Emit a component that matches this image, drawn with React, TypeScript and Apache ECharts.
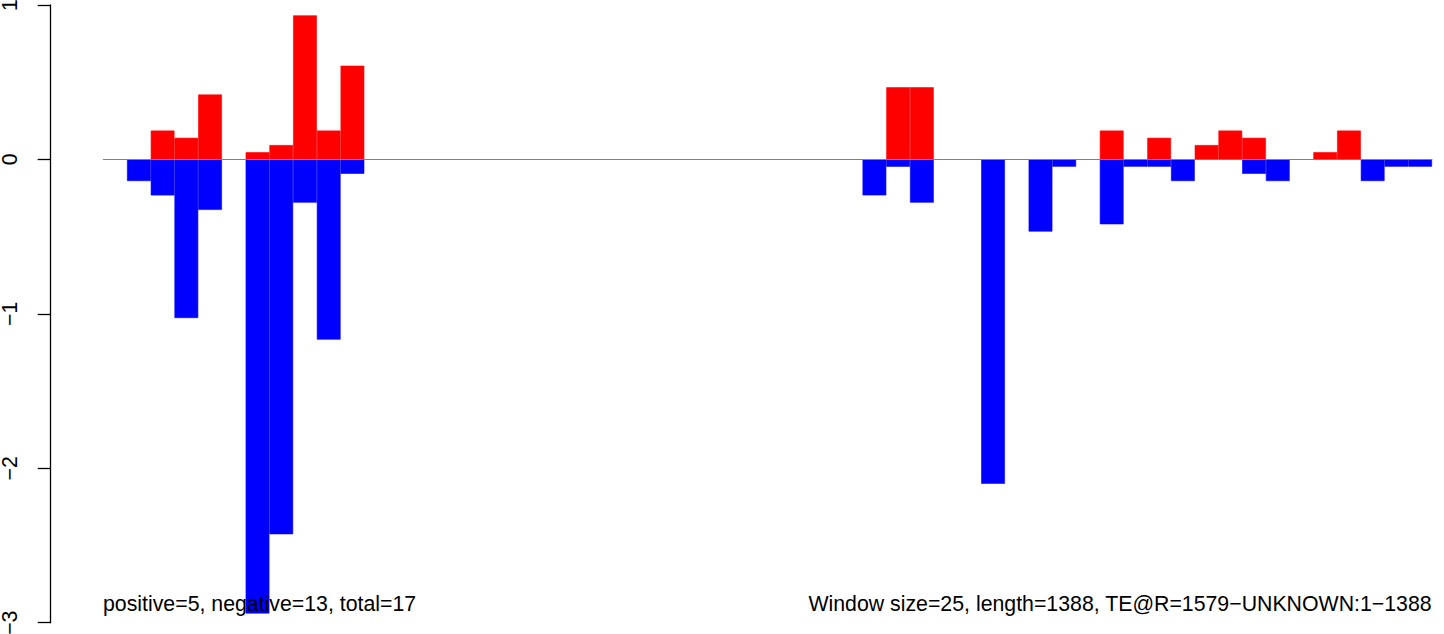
import React, { useEffect, useRef } from "react";
import * as echarts from "echarts";

const categories: string[] = [
  "1", "26", "51", "76", "101", "126", "151", "176", "201", "226",
  "251", "276", "301", "326", "351", "376", "401", "426", "451", "476",
  "501", "526", "551", "576", "601", "626", "651", "676", "701", "726",
  "751", "776", "801", "826", "851", "876", "901", "926", "951", "976",
  "1001", "1026", "1051", "1076", "1101", "1126", "1151", "1176", "1201", "1226",
  "1251", "1276", "1301", "1326", "1351", "1376",
];

const positiveValues: (number | null)[] = [
  null, null, 0.187, 0.14, 0.42, null, 0.047, 0.093, 0.933, 0.187,
  0.607, null, null, null, null, null, null, null, null, null,
  null, null, null, null, null, null, null, null, null, null,
  null, null, null, 0.467, 0.467, null, null, null, null, null,
  null, null, 0.187, null, 0.14, null, 0.093, 0.187, 0.14, null,
  null, 0.047, 0.187, null, null, null,
];

const negativeValues: (number | null)[] = [
  null, -0.14, -0.233, -1.027, -0.327, null, -2.94, -2.427, -0.28, -1.167,
  -0.093, null, null, null, null, null, null, null, null, null,
  null, null, null, null, null, null, null, null, null, null,
  null, null, -0.233, -0.047, -0.28, null, null, -2.1, null, -0.467,
  -0.047, null, -0.42, -0.047, -0.047, -0.14, null, null, -0.093, -0.14,
  null, null, null, -0.14, -0.047, -0.047,
];

const yTicks = { min: -3, max: 1, interval: 1 };
const leftNote = "positive=5, negative=13, total=17";
const rightNote = "Window size=25, length=1388, TE@R=1579\u2212UNKNOWN:1\u22121388";

const FONT = "'Liberation Sans', Arial, Helvetica, sans-serif";

export default function App() {
  const ref = useRef<HTMLDivElement>(null);
  useEffect(() => {
    if (!ref.current) return;
    const chart = echarts.init(ref.current, null, { renderer: "svg" });
    chart.setOption({
      animation: false,
      backgroundColor: "#ffffff",
      grid: {
        left: 103.3,
        right: 12,
        top: 5,
        bottom: 11.3,
        containLabel: false,
        outerBoundsMode: "none",
      },
      xAxis: {
        type: "category",
        data: categories,
        boundaryGap: true,
        z: 10,
        axisLine: { show: true, onZero: true, lineStyle: { color: "#808080", width: 1 } },
        axisTick: { show: false },
        axisLabel: { show: false },
        splitLine: { show: false },
      },
      yAxis: {
        type: "value",
        min: yTicks.min,
        max: yTicks.max,
        interval: yTicks.interval,
        offset: 52.6,
        axisLine: { show: true, lineStyle: { color: "#000", width: 1.3 } },
        axisTick: { show: true, length: 13, lineStyle: { color: "#000", width: 1.3 } },
        axisLabel: {
          show: true,
          rotate: 90,
          margin: 30,
          color: "#000",
          fontSize: 21.3,
          fontFamily: FONT,
          hideOverlap: false,
          formatter: (v: number) => String(v).replace("-", "\u2212"),
        },
        splitLine: { show: false },
      },
      series: [
        {
          type: "bar",
          name: "positive",
          data: positiveValues,
          barWidth: "100%",
          barGap: "-100%",
          itemStyle: { color: "#ff0000", borderColor: "#ff0000", borderWidth: 0.6 },
        },
        {
          type: "bar",
          name: "negative",
          data: negativeValues,
          barWidth: "100%",
          barGap: "-100%",
          itemStyle: { color: "#0000ff", borderColor: "#0000ff", borderWidth: 0.6 },
        },
      ],
      graphic: [
        {
          type: "text",
          left: 103,
          top: 593,
          z: 100,
          style: { text: leftNote, fill: "#000", font: `21.3px ${FONT}` },
        },
        {
          type: "text",
          right: 12,
          top: 593,
          z: 100,
          style: { text: rightNote, fill: "#000", font: `21.3px ${FONT}` },
        },
      ],
    });
    return () => chart.dispose();
  }, []);
  return (
    <div
      ref={ref}
      style={{ position: "absolute", left: 0, top: 0, width: 1444, height: 634 }}
    />
  );
}
